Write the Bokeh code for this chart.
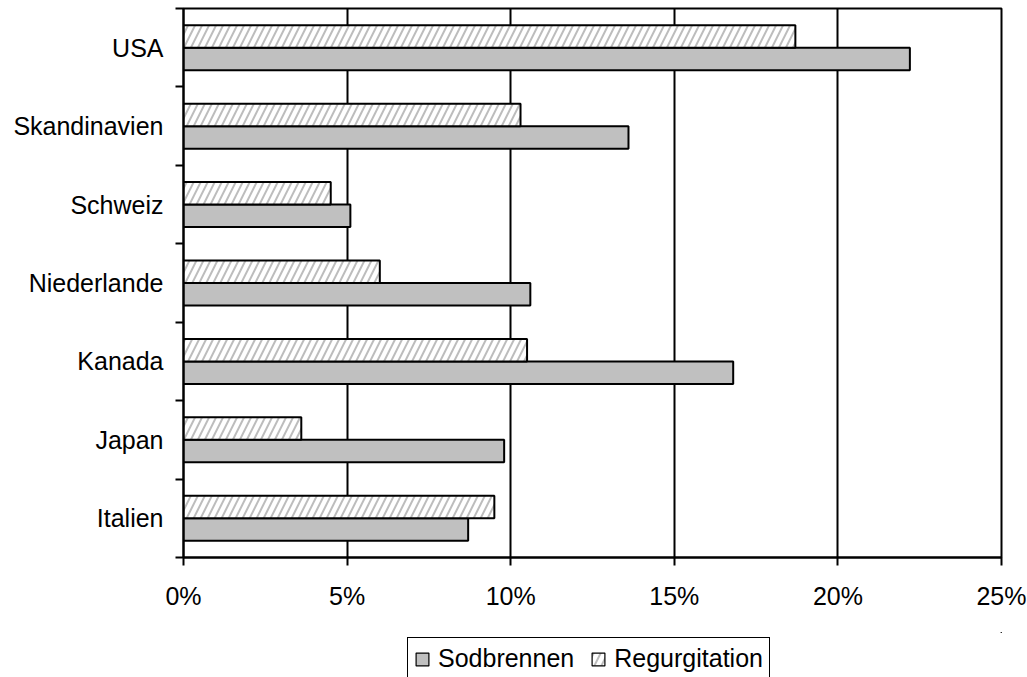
from bokeh.plotting import figure
from bokeh.layouts import column
from bokeh.models import (ColumnDataSource, Range1d, FixedTicker, PrintfTickFormatter,
                          Legend, LegendItem)
from bokeh.transform import dodge
from bokeh.embed import file_html
from bokeh.resources import INLINE

# Data (bottom to top)
categories = ["Italien", "Japan", "Kanada", "Niederlande", "Schweiz", "Skandinavien", "USA"]
sodbrennen = [8.7, 9.8, 16.8, 10.6, 5.1, 13.6, 22.2]
regurgitation = [9.5, 3.6, 10.5, 6.0, 4.5, 10.3, 18.7]
series_names = ["Sodbrennen", "Regurgitation"]
x_ticks = [0, 5, 10, 15, 20, 25]

FONT = "Liberation Sans"
FS = "25px"

SOD_STYLE = dict(fill_color="#c0c0c0", line_color="black")
REG_STYLE = dict(fill_color="white", hatch_pattern="/", hatch_color="#bdbdbd",
                 hatch_scale=14, hatch_weight=2, line_color="black")

ypos = [i + 0.5 for i in range(len(categories))]
src = ColumnDataSource(dict(y=ypos, cat=categories, sod=sodbrennen, reg=regurgitation))

p = figure(frame_width=818, frame_height=549, output_backend="svg", toolbar_location=None,
           x_range=Range1d(0, 25), y_range=Range1d(0, len(categories)),
           min_border_left=183, min_border_right=26, min_border_top=8,
           min_border_bottom=75)

bar_h = 0.287
p.hbar(y=dodge("y", -bar_h / 2), right="sod", left=0, height=bar_h, source=src,
       line_width=2, **SOD_STYLE)
p.hbar(y=dodge("y", bar_h / 2), right="reg", left=0, height=bar_h, source=src,
       line_width=2, **REG_STYLE)

# x axis
p.xaxis.ticker = FixedTicker(ticks=x_ticks, minor_ticks=[])
p.xaxis.formatter = PrintfTickFormatter(format="%d%%")
p.xaxis.major_tick_out = 8
p.xaxis.major_tick_in = 0
p.xaxis.major_label_standoff = 16

# y axis: labels at centres, ticks at category boundaries
p.yaxis.ticker = FixedTicker(ticks=ypos, minor_ticks=list(range(len(categories) + 1)))
p.yaxis.major_label_overrides = {y: c for y, c in zip(ypos, categories)}
p.yaxis.major_tick_line_color = None
p.yaxis.major_tick_out = 0
p.yaxis.major_tick_in = 0
p.yaxis.minor_tick_out = 8
p.yaxis.minor_tick_in = 0
p.yaxis.minor_tick_line_color = "black"
p.yaxis.minor_tick_line_width = 2
p.yaxis.major_label_standoff = 12

for ax in (p.xaxis, p.yaxis):
    ax.axis_line_color = "black"
    ax.axis_line_width = 2
    ax.major_label_text_font = FONT
    ax.major_label_text_font_size = FS
    ax.major_label_text_color = "black"
p.xaxis.major_tick_line_color = "black"
p.xaxis.major_tick_line_width = 2

p.xgrid.ticker = FixedTicker(ticks=x_ticks)
p.xgrid.grid_line_color = "black"
p.xgrid.grid_line_width = 2
p.ygrid.visible = False

p.outline_line_color = "black"
p.outline_line_width = 2
p.background_fill_color = "white"
p.border_fill_color = "white"

# Legend strip below the chart (bars lie far outside its visible range, only legend shows)
pl = figure(width=1027, height=45, output_backend="svg", toolbar_location=None,
            x_axis_location=None, y_axis_location=None,
            x_range=Range1d(-200, -199), y_range=Range1d(-200, -199), min_border=0)
pl.outline_line_color = None
pl.xgrid.visible = False
pl.ygrid.visible = False
pl.border_fill_color = "white"
l_sod = pl.hbar(y="y", right="sod", left=0, height=bar_h, source=src, line_width=1.2, **SOD_STYLE)
l_reg = pl.hbar(y="y", right="reg", left=0, height=bar_h, source=src, line_width=1.2, **REG_STYLE)
legend = Legend(items=[LegendItem(label=series_names[0], renderers=[l_sod], index=0),
                       LegendItem(label=series_names[1], renderers=[l_reg], index=0)],
                orientation="horizontal", location=(224, -3),
                label_text_font=FONT, label_text_font_size=FS, label_text_color="black",
                glyph_width=16, glyph_height=16, label_standoff=8, spacing=16,
                padding=6, margin=0, border_line_color="black", border_line_alpha=1.0,
                border_line_width=1.5, background_fill_alpha=1)
pl.add_layout(legend, "center")

open("out.html", "w").write(file_html(column(p, pl, spacing=0), INLINE))
